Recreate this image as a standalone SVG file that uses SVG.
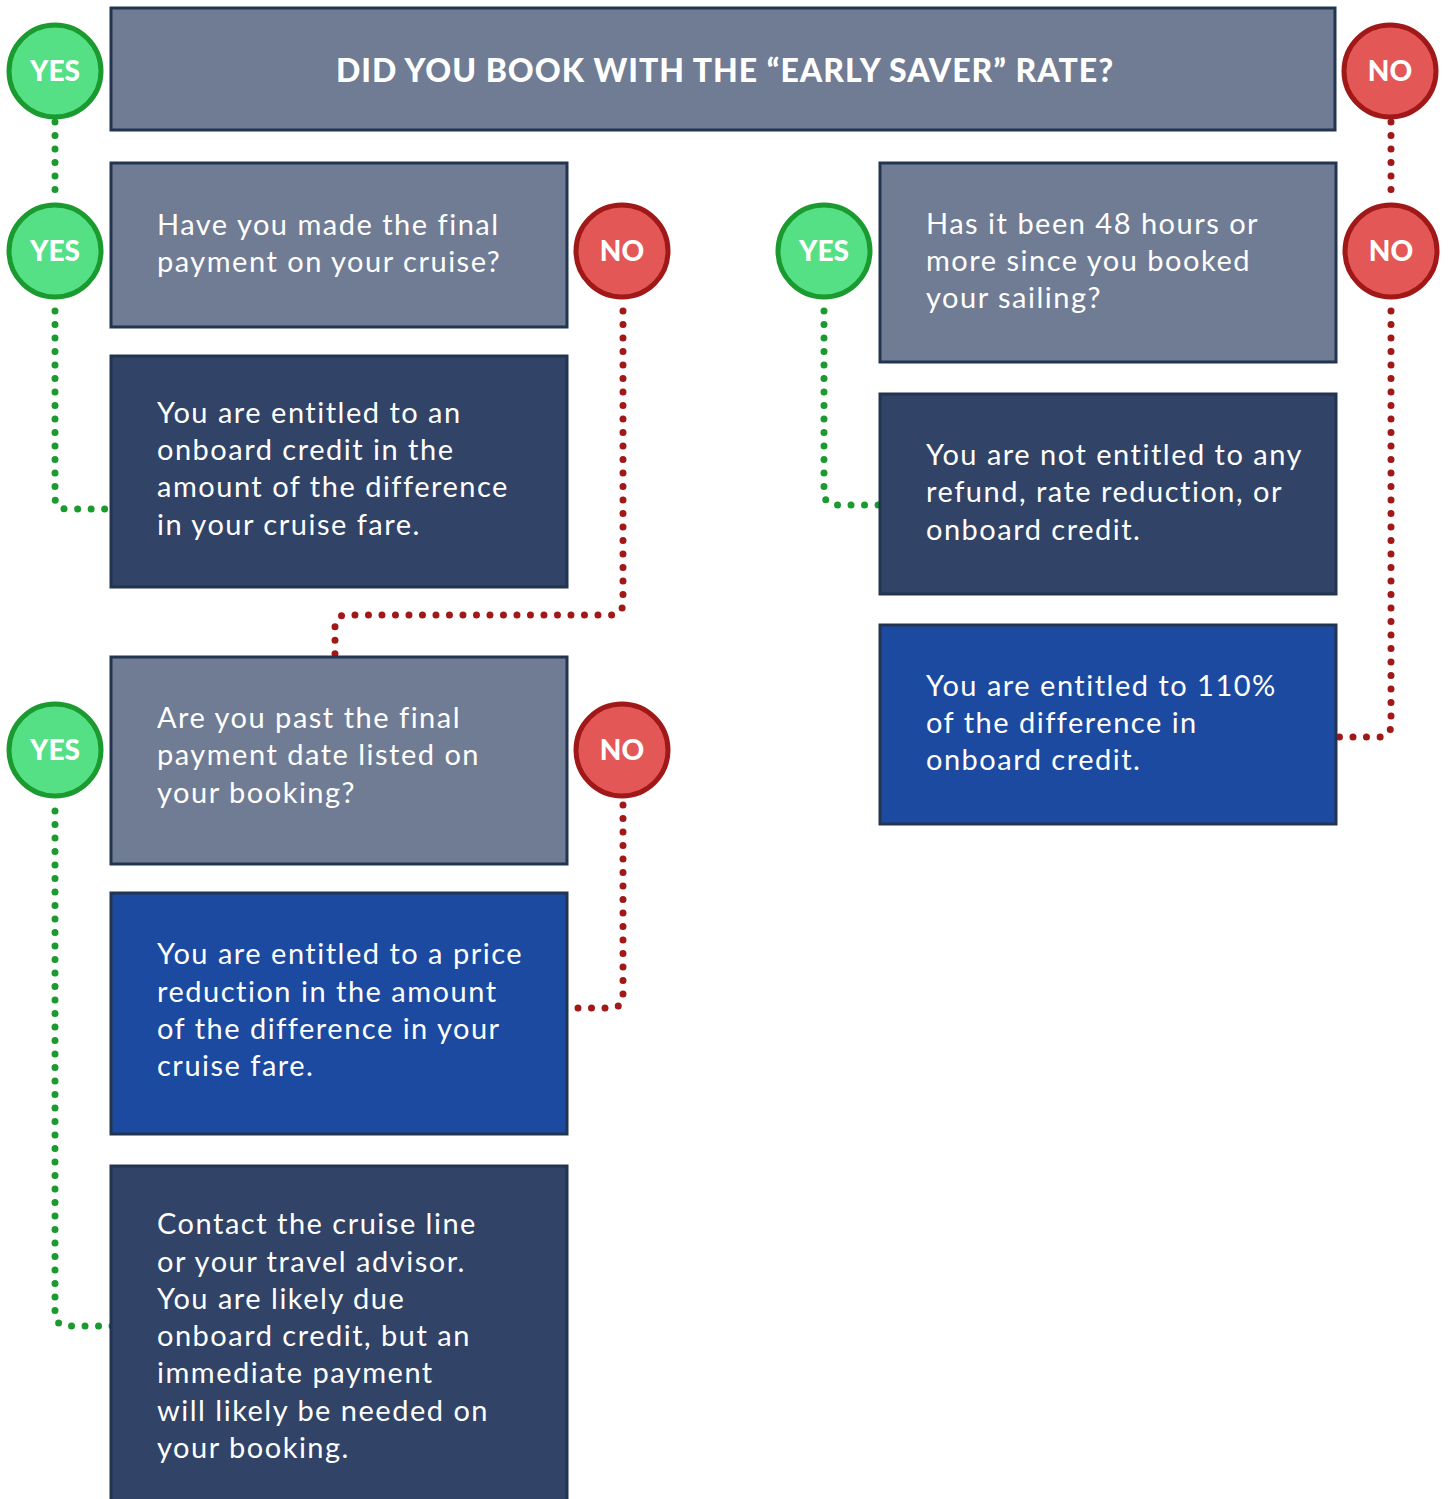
<svg xmlns="http://www.w3.org/2000/svg" width="1449" height="1499" viewBox="0 0 1449 1499">
<style>
.q{fill:#707c94;stroke:#22344f;stroke-width:3}
.n{fill:#314366;stroke:#22344f;stroke-width:3}
.b{fill:#1b4aa0;stroke:#22344f;stroke-width:3}
.t{font-family:Lato,"Liberation Sans",sans-serif;font-size:29px;fill:#ffffff;letter-spacing:1.5px}
.h{font-family:Lato,"Liberation Sans",sans-serif;font-size:32px;font-weight:900;fill:#ffffff;text-anchor:middle;letter-spacing:1px}
.yes{fill:#55e086;stroke:#1a9a2f;stroke-width:5}
.no{fill:#e45757;stroke:#a01818;stroke-width:5}
.ct{font-family:Lato,"Liberation Sans",sans-serif;font-size:28px;font-weight:900;fill:#ffffff;text-anchor:middle}
.g{fill:none;stroke:#1a9a2f;stroke-width:7;stroke-linecap:round;stroke-dasharray:0 13.5}
.r{fill:none;stroke:#a01818;stroke-width:7;stroke-linecap:round;stroke-dasharray:0 13.5}
</style>
<g id="connectors">
<path class="g" d="M55,122 V192"/>
<path class="g" d="M55,311 V497 Q55,509 67,509 H120"/>
<path class="g" d="M55,811 V1313 Q55,1326 68,1326 H120"/>
<path class="g" d="M824,311 V492 Q824,505 837,505 H890"/>
<path class="r" d="M1391,122 V192"/>
<path class="r" d="M1391,311 V724 Q1391,737 1378,737 H1325"/>
<path class="r" d="M623,311 V602 Q623,615 610,615 H347 Q335,615 335,627 V660"/>
<path class="r" d="M578,1008 H610 Q623,1008 623,995 V790"/>
</g>
<g id="n-title">
<rect class="q" x="111" y="8" width="1224" height="122"/>
<text class="h" x="725" y="82">DID YOU BOOK WITH THE “EARLY SAVER” RATE?</text>
</g>
<g id="yes-1"><circle class="yes" cx="55" cy="71" r="46"/><text class="ct" x="55" y="81">YES</text></g>
<g id="no-1"><circle class="no" cx="1390" cy="71" r="46"/><text class="ct" x="1390" y="81">NO</text></g>
<g id="n-final-payment">
<rect class="q" x="111" y="163" width="456" height="164"/>
<text class="t" x="157" y="235">Have you made the final</text>
<text class="t" x="157" y="272">payment on your cruise?</text>
</g>
<g id="yes-2"><circle class="yes" cx="55" cy="251" r="46"/><text class="ct" x="55" y="261">YES</text></g>
<g id="no-2"><circle class="no" cx="622" cy="251" r="46"/><text class="ct" x="622" y="261">NO</text></g>
<g id="n-onboard-credit">
<rect class="n" x="111" y="356" width="456" height="231"/>
<text class="t" x="157" y="423">You are entitled to an</text>
<text class="t" x="157" y="460">onboard credit in the</text>
<text class="t" x="157" y="497">amount of the difference</text>
<text class="t" x="157" y="535">in your cruise fare.</text>
</g>
<g id="n-past-date">
<rect class="q" x="111" y="657" width="456" height="207"/>
<text class="t" x="157" y="728">Are you past the final</text>
<text class="t" x="157" y="765">payment date listed on</text>
<text class="t" x="157" y="803">your booking?</text>
</g>
<g id="yes-3"><circle class="yes" cx="55" cy="750" r="46"/><text class="ct" x="55" y="760">YES</text></g>
<g id="no-3"><circle class="no" cx="622" cy="750" r="46"/><text class="ct" x="622" y="760">NO</text></g>
<g id="n-price-reduction">
<rect class="b" x="111" y="893" width="456" height="241"/>
<text class="t" x="157" y="964">You are entitled to a price</text>
<text class="t" x="157" y="1002">reduction in the amount</text>
<text class="t" x="157" y="1039">of the difference in your</text>
<text class="t" x="157" y="1076">cruise fare.</text>
</g>
<g id="n-contact">
<rect class="n" x="111" y="1166" width="456" height="345"/>
<text class="t" x="157" y="1234">Contact the cruise line</text>
<text class="t" x="157" y="1272">or your travel advisor.</text>
<text class="t" x="157" y="1309">You are likely due</text>
<text class="t" x="157" y="1346">onboard credit, but an</text>
<text class="t" x="157" y="1383">immediate payment</text>
<text class="t" x="157" y="1421">will likely be needed on</text>
<text class="t" x="157" y="1458">your booking.</text>
</g>
<g id="n-48-hours">
<rect class="q" x="880" y="163" width="456" height="199"/>
<text class="t" x="926" y="234">Has it been 48 hours or</text>
<text class="t" x="926" y="271">more since you booked</text>
<text class="t" x="926" y="308">your sailing?</text>
</g>
<g id="yes-4"><circle class="yes" cx="824" cy="251" r="46"/><text class="ct" x="824" y="261">YES</text></g>
<g id="no-4"><circle class="no" cx="1391" cy="251" r="46"/><text class="ct" x="1391" y="261">NO</text></g>
<g id="n-not-entitled">
<rect class="n" x="880" y="394" width="456" height="200"/>
<text class="t" x="926" y="465">You are not entitled to any</text>
<text class="t" x="926" y="502">refund, rate reduction, or</text>
<text class="t" x="926" y="540">onboard credit.</text>
</g>
<g id="n-110">
<rect class="b" x="880" y="625" width="456" height="199"/>
<text class="t" x="926" y="696">You are entitled to 110%</text>
<text class="t" x="926" y="733">of the difference in</text>
<text class="t" x="926" y="770">onboard credit.</text>
</g>
</svg>
